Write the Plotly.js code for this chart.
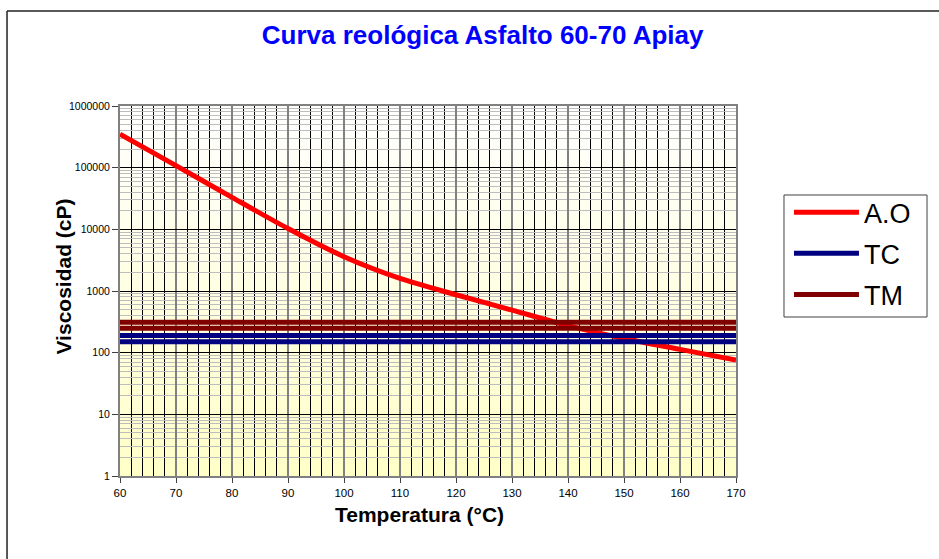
<!DOCTYPE html>
<html>
<head>
<meta charset="utf-8">
<script src="https://cdn.plot.ly/plotly-3.0.1.min.js"></script>
<style>html,body{margin:0;padding:0;background:#fff;}#chart{width:939px;height:559px;}</style>
</head>
<body>
<div id="chart"></div>
<script>
// ---- data ----
const temps = [60, 70, 80, 90, 100, 110, 120, 130, 140, 150, 160, 170];
const viscAO = [350000, 108000, 33000, 10300, 3600, 1600, 870, 490, 275, 170, 113, 76];
const tcX = [60, 170, null, 60, 170];
const tcY = [150, 150, null, 190, 190];
const tmX = [60, 170, null, 60, 170];
const tmY = [250, 250, null, 310, 310];
const yTickVals = [1, 10, 100, 1000, 10000, 100000, 1000000];
const yTickText = ['1', '10', '100', '1000', '10000', '100000', '1000000'];
const xTickVals = [60, 70, 80, 90, 100, 110, 120, 130, 140, 150, 160, 170];
const seriesNames = ['A.O', 'TC', 'TM'];
const chartTitle = 'Curva reológica Asfalto 60-70 Apiay';
const xTitle = 'Temperatura (°C)';
const yTitle = 'Viscosidad (cP)';

// ---- background gradient (white -> pale yellow) ----
const cv = document.createElement('canvas');
cv.width = 4; cv.height = 256;
const ctx = cv.getContext('2d');
const g = ctx.createLinearGradient(0, 0, 0, 256);
g.addColorStop(0, '#ffffff');
g.addColorStop(1, '#ffffc8');
ctx.fillStyle = g; ctx.fillRect(0, 0, 4, 256);
const bgImg = cv.toDataURL('image/png');

const FONT = 'Liberation Sans, Arial, sans-serif';

const traces = [
  {x: temps, y: viscAO, name: seriesNames[0], legendgroup: 'g1', mode: 'lines',
   line: {color: '#ff0000', width: 5, shape: 'spline', smoothing: 0.8}},
  {x: tcX, y: tcY, name: seriesNames[1], legendgroup: 'g2', mode: 'lines', connectgaps: false,
   line: {color: '#000080', width: 5}},
  {x: tmX, y: tmY, name: seriesNames[2], legendgroup: 'g3', mode: 'lines', connectgaps: false,
   line: {color: '#800000', width: 5}}
];

const layout = {
  width: 939, height: 559,
  margin: {l: 120, r: 203, t: 106, b: 83},
  paper_bgcolor: '#ffffff',
  plot_bgcolor: 'rgba(0,0,0,0)',
  font: {family: FONT, color: '#000'},
  title: {text: chartTitle, xref: 'container', x: 0.514, xanchor: 'center',
          yref: 'container', y: 0.937, yanchor: 'middle',
          font: {family: FONT, size: 26, color: '#0000ff', weight: 'bold'}},
  showlegend: true,
  legend: {x: 1.086, y: 0.778, xanchor: 'left', yanchor: 'top', tracegroupgap: 3,
           borderwidth: 0, bgcolor: 'rgba(0,0,0,0)',
           font: {family: FONT, size: 27, color: '#000'}, itemwidth: 65},
  xaxis: {range: [60, 170], tickvals: xTickVals, ticks: 'outside', ticklen: 5, tickcolor: '#404040',
          tickfont: {family: FONT, size: 11.5}, showline: true, linecolor: '#808080', linewidth: 2, mirror: true,
          showgrid: true, gridcolor: '#808080', gridwidth: 1.5,
          minor: {dtick: 2, showgrid: true, gridcolor: '#000000', gridwidth: 1, ticks: ''},
          zeroline: false, automargin: false},
  yaxis: {type: 'log', range: [0, 6], tickvals: yTickVals, ticktext: yTickText, ticks: 'outside', ticklen: 6,
          tickcolor: '#404040', tickfont: {family: FONT, size: 10.5}, showline: true, linecolor: '#808080',
          linewidth: 2, mirror: true, showgrid: true, gridcolor: '#000000', gridwidth: 1,
          minor: {dtick: 'D1', showgrid: true, gridcolor: '#bdbdbd', gridwidth: 1, ticks: ''},
          zeroline: false, automargin: false},
  annotations: [
    {text: xTitle, xref: 'paper', yref: 'paper', x: 0.487, y: -0.105, xanchor: 'center', yanchor: 'middle',
     showarrow: false, font: {family: FONT, size: 21, weight: 'bold', color: '#000'}},
    {text: yTitle, xref: 'paper', yref: 'paper', x: -0.091, y: 0.539, xanchor: 'center', yanchor: 'middle',
     textangle: -90, showarrow: false, font: {family: FONT, size: 21, weight: 'bold', color: '#000'}}
  ],
  images: [{source: bgImg, xref: 'paper', yref: 'paper', x: 0, y: 1, sizex: 1, sizey: 1,
            sizing: 'stretch', xanchor: 'left', yanchor: 'top', layer: 'below'}],
  shapes: [
    {type: 'line', xref: 'paper', yref: 'paper', x0: -0.1834, x1: -0.1834, y0: -1, y1: 1.2568,
     line: {color: '#222', width: 1.5}},
    {type: 'line', xref: 'paper', yref: 'paper', x0: -0.1834, x1: 2, y0: 1.2568, y1: 1.2568,
     line: {color: '#222', width: 1.5}},
    // legend frame
    {type: 'rect', xref: 'paper', yref: 'paper', x0: 1.0779, x1: 1.3101, y0: 0.4297, y1: 0.7595,
     line: {color: '#404040', width: 1}, fillcolor: 'rgba(0,0,0,0)', layer: 'above'}
  ]
};

Plotly.newPlot('chart', traces, layout, {displayModeBar: false, staticPlot: true});
</script>
</body>
</html>
